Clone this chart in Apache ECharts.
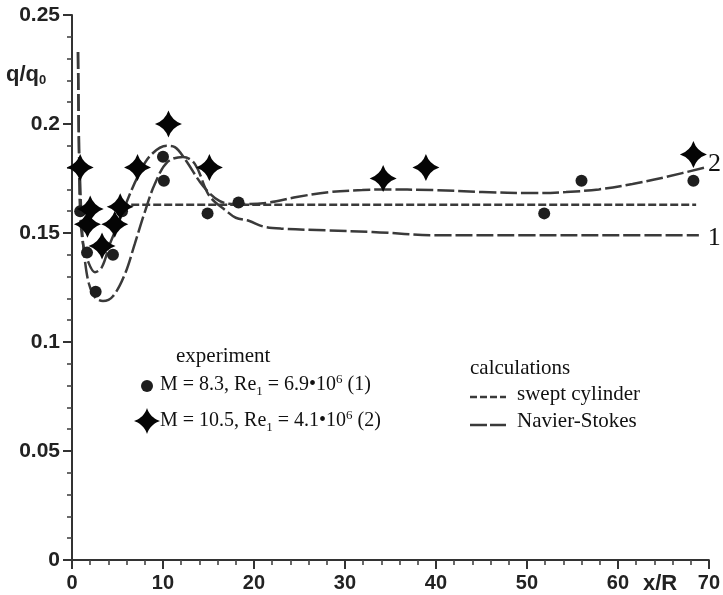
<!DOCTYPE html>
<html><head><meta charset="utf-8">
<script src="https://cdn.jsdelivr.net/npm/echarts@6/dist/echarts.min.js"></script>
<style>html,body{margin:0;padding:0;background:#fff}#c{width:723px;height:595px}</style>
</head><body><div id="c"></div>
<script>
// experiment 1: M = 8.3 (circles)
var exp1X = [0.9, 1.65, 2.6, 4.5, 5.5, 10.0, 10.1, 14.9, 18.3, 51.9, 56.0, 68.3];
var exp1Y = [0.160, 0.141, 0.123, 0.140, 0.160, 0.185, 0.174, 0.159, 0.164, 0.159, 0.174, 0.174];
// experiment 2: M = 10.5 (stars)
var exp2X = [0.9, 1.7, 2.0, 3.3, 4.7, 5.3, 7.2, 10.6, 15.1, 34.2, 38.9, 68.3];
var exp2Y = [0.180, 0.154, 0.161, 0.144, 0.154, 0.162, 0.180, 0.200, 0.180, 0.175, 0.180, 0.186];
// Navier-Stokes, case 1
var ns1X = [0.66, 0.77, 0.88, 1.1, 1.43, 1.87, 2.52, 3.4, 4.5, 5.8, 6.9, 8.0, 9.1, 10.5, 12.2, 13.5, 15.1, 17.0, 18.0, 19.5, 21.0, 23.0, 28.0, 33.0, 40.0, 50.0, 60.0, 68.9];
var ns1Y = [0.233, 0.1885, 0.175, 0.152, 0.137, 0.1266, 0.1206, 0.1188, 0.121, 0.131, 0.145, 0.1596, 0.1725, 0.1826, 0.1849, 0.1817, 0.167, 0.160, 0.157, 0.1555, 0.153, 0.152, 0.1512, 0.1505, 0.149, 0.149, 0.149, 0.149];
// Navier-Stokes, case 2
var ns2X = [0.66, 0.77, 0.88, 1.21, 1.76, 2.52, 3.29, 4.17, 5.05, 6.14, 7.24, 8.56, 10.4, 11.3, 12.4, 14.4, 16.2, 18.0, 19.5, 21.7, 24.7, 28.3, 31.9, 34.1, 39.6, 45.1, 50.6, 54.3, 57.9, 61.6, 65.3, 69.8];
var ns2Y = [0.233, 0.1885, 0.161, 0.145, 0.137, 0.132, 0.1344, 0.145, 0.154, 0.1656, 0.176, 0.1853, 0.190, 0.1894, 0.184, 0.1716, 0.1647, 0.1633, 0.1633, 0.164, 0.1665, 0.1688, 0.1697, 0.170, 0.1697, 0.1688, 0.1683, 0.1688, 0.170, 0.1725, 0.1757, 0.1803];
// swept cylinder
var sweptX = [5.3, 68.6];
var sweptY = [0.163, 0.163];
var xTicks = [0, 10, 20, 30, 40, 50, 60, 70];
var yTicks = [0, 0.05, 0.1, 0.15, 0.2, 0.25];

function pairs(xs, ys){ return xs.map(function(x,i){return [x, ys[i]];}); }
var STAR = 'path://M0,-10 Q2.5,-2.5 10,0 Q2.5,2.5 0,10 Q-2.5,2.5 -10,0 Q-2.5,-2.5 0,-10 Z';
// legend star icon as polygon (sampled concave star)
function starPoly(cx, cy, r, k){
  var pts = [], tips = [[0,-1],[1,0],[0,1],[-1,0]];
  for (var q = 0; q < 4; q++){
    var a = tips[q], b = tips[(q+1)%4];
    var c = [(a[0]+b[0])*k, (a[1]+b[1])*k];
    for (var i = 0; i < 10; i++){
      var t = i/10, u = 1-t;
      pts.push([cx + r*(u*u*a[0] + 2*u*t*c[0] + t*t*b[0]), cy + r*(u*u*a[1] + 2*u*t*c[1] + t*t*b[1])]);
    }
  }
  return pts;
}
var lineCol = '#3a3a3a';
var chart = echarts.init(document.getElementById('c'));
var sans = 'Liberation Sans';
var serif = 'Liberation Serif';
var richSub = {s: {fontFamily: serif, fontSize: 13, fill: '#111', padding: [13, 0, 0, 0]},
               p: {fontFamily: serif, fontSize: 13, fill: '#111', padding: [0, 0, 11, 0]}};
chart.setOption({
  animation: false,
  backgroundColor: '#fff',
  grid: {left: 72, right: 13, top: 15, bottom: 35, containLabel: false},
  xAxis: {
    type: 'value', min: xTicks[0], max: xTicks[xTicks.length-1], interval: 10,
    axisLine: {onZero: false, lineStyle: {color: '#333', width: 2}},
    axisTick: {show: true, length: 9, lineStyle: {color: '#333', width: 2}},
    minorTick: {show: true, splitNumber: 5, length: 5, lineStyle: {color: '#444', width: 1.6}},
    splitLine: {show: false},
    axisLabel: {color: '#222', fontFamily: sans, fontWeight: 'bold', fontSize: 20, margin: 13}
  },
  yAxis: {
    type: 'value', min: yTicks[0], max: yTicks[yTicks.length-1], interval: 0.05,
    axisLine: {show: true, onZero: false, lineStyle: {color: '#333', width: 2}},
    axisTick: {show: true, length: 9, lineStyle: {color: '#333', width: 2}},
    minorTick: {show: true, splitNumber: 5, length: 5, lineStyle: {color: '#444', width: 1.6}},
    splitLine: {show: false},
    axisLabel: {color: '#222', fontFamily: sans, fontWeight: 'bold', fontSize: 21, margin: 12}
  },
  series: [
    {type: 'line', data: pairs(sweptX, sweptY), symbol: 'none', z: 2,
     lineStyle: {color: lineCol, width: 2.5, type: [8, 3]}},
    {type: 'line', data: pairs(ns1X, ns1Y), symbol: 'none', smooth: 0.35, z: 2,
     lineStyle: {color: lineCol, width: 2.5, type: [17, 4]},
     endLabel: {show: true, formatter: '1', fontFamily: serif, fontSize: 26, color: '#111', distance: 9, offset: [0, 3]}},
    {type: 'line', data: pairs(ns2X, ns2Y), symbol: 'none', smooth: 0.35, z: 2,
     lineStyle: {color: lineCol, width: 2.5, type: [17, 4]},
     endLabel: {show: true, formatter: '2', fontFamily: serif, fontSize: 26, color: '#111', distance: 1, offset: [0, -3]}},
    {type: 'scatter', data: pairs(exp1X, exp1Y), symbol: 'circle', symbolSize: 12, z: 5,
     itemStyle: {color: '#1e1e1e', opacity: 1}},
    {type: 'scatter', data: pairs(exp2X, exp2Y), symbol: STAR, symbolSize: 27, z: 6,
     itemStyle: {color: '#050505', opacity: 1}}
  ],
  graphic: [
    {type: 'text', x: 6, y: 63, style: {
      text: '{a|q/q}{s|0}', rich: {
        a: {fontFamily: sans, fontWeight: 'bold', fontSize: 22, fill: '#222'},
        s: {fontFamily: sans, fontWeight: 'bold', fontSize: 13, fill: '#222', padding: [11, 0, 0, 0]}
      }}},
    {type: 'text', x: 643, y: 573, style: {text: 'x/R', fontFamily: sans, fontWeight: 'bold', fontSize: 22, fill: '#222'}},
    {type: 'text', x: 176, y: 346, style: {text: 'experiment', fontFamily: serif, fontSize: 21, fill: '#111'}},
    {type: 'circle', shape: {cx: 147, cy: 386, r: 6}, style: {fill: '#1e1e1e'}},
    {type: 'text', x: 160, y: 372, style: {
      text: 'M = 8.3, Re{s|1} = 6.9•10{p|6} (1)', fontFamily: serif, fontSize: 20, fill: '#111', rich: richSub}},
    {type: 'polygon', shape: {points: starPoly(147, 421, 13, 0.25)}, style: {fill: '#050505'}},
    {type: 'text', x: 160, y: 408, style: {
      text: 'M = 10.5, Re{s|1} = 4.1•10{p|6} (2)', fontFamily: serif, fontSize: 20, fill: '#111', rich: richSub}},
    {type: 'text', x: 470, y: 358, style: {text: 'calculations', fontFamily: serif, fontSize: 21, fill: '#111'}},
    {type: 'line', shape: {x1: 470, y1: 397, x2: 506, y2: 397}, style: {stroke: lineCol, lineWidth: 2.5, lineDash: [7, 3]}},
    {type: 'text', x: 517, y: 384, style: {text: 'swept cylinder', fontFamily: serif, fontSize: 21, fill: '#111'}},
    {type: 'line', shape: {x1: 470, y1: 425, x2: 506, y2: 425}, style: {stroke: lineCol, lineWidth: 2.5, lineDash: [17, 3]}},
    {type: 'text', x: 517, y: 411, style: {text: 'Navier-Stokes', fontFamily: serif, fontSize: 21, fill: '#111'}}
  ]
});
</script></body></html>
